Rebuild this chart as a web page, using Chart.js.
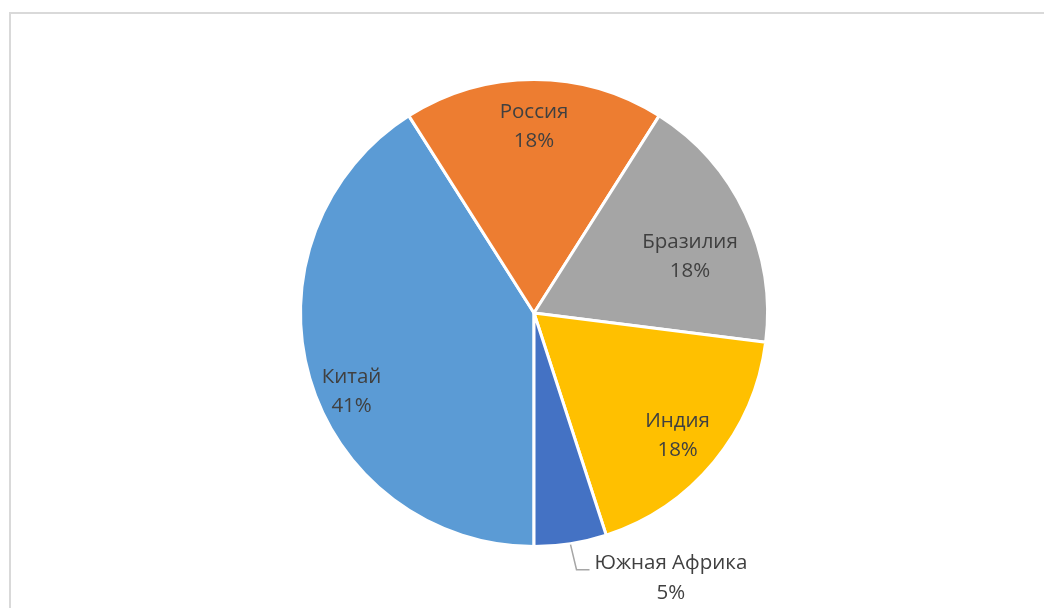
<!DOCTYPE html>
<html>
<head>
<meta charset="utf-8">
<script src="https://cdn.jsdelivr.net/npm/chart.js@4"></script>
<style>
    html, body { margin: 0; padding: 0; background: #fff; }
    #wrap { position: relative; width: 1044px; height: 608px; overflow: hidden; }
    #frame {
        position: absolute; left: 9px; top: 12px; width: 1100px; height: 700px;
        border: 2px solid #d9d9d9; box-sizing: border-box;
    }
    canvas { position: absolute; left: 0; top: 0; }
</style>
</head>
<body>
<div id="wrap">
    <div id="frame"></div>
    <canvas id="pie" width="1044" height="608"></canvas>
</div>
<script>
// --- data ---
const countries = ['Китай', 'Россия', 'Бразилия', 'Индия', 'Южная Африка'];
const shares = [41, 18, 18, 18, 5];
const sliceColors = ['#5B9BD5', '#ED7D31', '#A5A5A5', '#FFC000', '#4472C4'];

// label placement: [radius fraction, angle nudge in degrees]; null = outside with leader
const labelPlace = [[0.85, -7], [0.8, 0], [0.71, 5.4], [0.81, 1], null];

const FONT = '20.5px "Open Sans", "Liberation Sans", sans-serif';
const TEXT_COLOR = '#404040';
const LINE_GAP = 29;

const pieLabels = {
    id: 'pieLabels',
    afterDatasetsDraw(chart) {
        const ctx = chart.ctx;
        const meta = chart.getDatasetMeta(0);
        const total = shares.reduce((a, b) => a + b, 0);

        ctx.save();
        ctx.font = FONT;
        ctx.fillStyle = TEXT_COLOR;
        ctx.textAlign = 'center';
        ctx.textBaseline = 'middle';

        meta.data.forEach((arc, i) => {
            const p = arc.getProps(['x', 'y', 'startAngle', 'endAngle', 'outerRadius'], true);
            const mid = (p.startAngle + p.endAngle) / 2;
            const pct = Math.round(shares[i] / total * 100) + '%';
            const place = labelPlace[i];

            if (place) {
                const a = mid + place[1] * Math.PI / 180;
                const r = p.outerRadius * place[0];
                const cx = p.x + Math.cos(a) * r;
                const cy = p.y + Math.sin(a) * r;
                ctx.fillText(countries[i], cx, cy - LINE_GAP / 2);
                ctx.fillText(pct, cx, cy + LINE_GAP / 2);
            } else {
                // outside label with leader line
                const ex = p.x + Math.cos(mid) * p.outerRadius;
                const ey = p.y + Math.sin(mid) * p.outerRadius;
                const kx = ex + 6, ky = ey + 26;
                ctx.strokeStyle = '#a6a6a6';
                ctx.lineWidth = 1.5;
                ctx.beginPath();
                ctx.moveTo(ex, ey + 1);
                ctx.lineTo(kx, ky);
                ctx.lineTo(kx + 13, ky);
                ctx.stroke();

                const w = ctx.measureText(countries[i]).width;
                const tx = kx + 18 + w / 2;
                ctx.fillText(countries[i], tx, ky - 6);
                ctx.fillText(pct, tx, ky + 24);
            }
        });
        ctx.restore();
    }
};

new Chart(document.getElementById('pie').getContext('2d'), {
    type: 'pie',
    data: {
        labels: countries,
        datasets: [{
            data: shares,
            backgroundColor: sliceColors,
            borderColor: '#ffffff',
            borderWidth: 3
        }]
    },
    options: {
        responsive: false,
        animation: false,
        rotation: 180,
        layout: { padding: { top: 78, bottom: 60, left: 24, right: 0 } },
        plugins: {
            legend: { display: false },
            tooltip: { enabled: false }
        }
    },
    plugins: [pieLabels]
});
</script>
</body>
</html>
